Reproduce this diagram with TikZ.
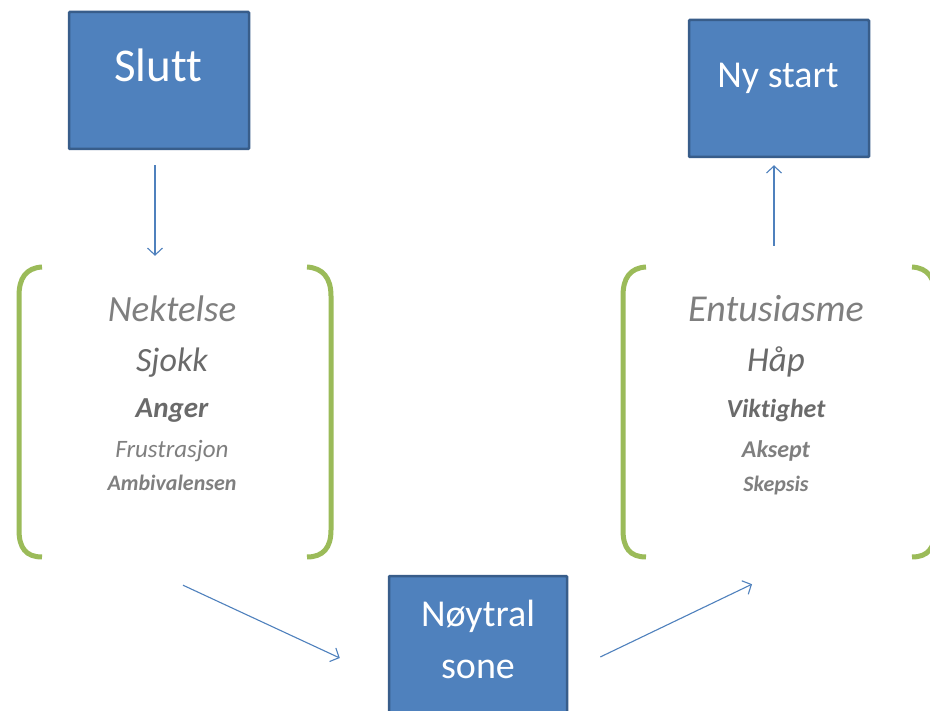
\documentclass[tikz,border=0pt]{standalone}
\usepackage{fontspec}
\setmainfont[Ligatures={NoCommon}]{Carlito}
\usetikzlibrary{arrows.meta,calc}
\definecolor{boxblue}{HTML}{4F81BD}
\definecolor{boxedge}{HTML}{385D8A}
\definecolor{brgreen}{HTML}{9BBB59}
\definecolor{lighttext}{HTML}{7F7F7F}
\definecolor{midtext}{HTML}{6A6A6A}
\begin{document}
\begin{tikzpicture}[x=1pt,y=-1pt,
  box/.style={draw=boxedge, line width=2.5pt, fill=boxblue, rounded corners=1pt, inner sep=0pt},
  boxtext/.style={text=white, anchor=base, inner sep=0pt},
  word/.style={anchor=base, inner sep=0pt},
  grp/.style={inner sep=0pt, minimum width=#1, minimum height=291pt},
  arr/.style={draw=boxblue, line width=1.1pt, -{Straight Barb[length=7pt,width=15pt,line width=1.1pt]}},
  brk/.style={draw=brgreen, line width=5pt}]
\useasboundingbox (0,0) rectangle (930,711);
\fill[white] (0,0) rectangle (930,711);
\clip (0,0) rectangle (930,711);

% boxes
\node[box, minimum width=180pt, minimum height=137pt] (slutt) at (159,80.5) {};
\node[boxtext, font=\fontsize{47}{56}\selectfont] (sluttlbl) at (158,82) {Slutt};
\node[box, minimum width=180pt, minimum height=137pt] (nystart) at (779,88.5) {};
\node[boxtext, font=\fontsize{38}{46}\selectfont] (nystartlbl) at (778,88) {Ny start};
\node[box, minimum width=178pt, minimum height=164pt] (noytral) at (478,658) {};
\node[boxtext, font=\fontsize{38}{46}\selectfont] (noytrallbl1) at (478,626) {Nøytral};
\node[boxtext, font=\fontsize{38}{46}\selectfont] (noytrallbl2) at (478,678) {sone};

% groups
\node[grp=316pt] (grpL) at (175,410.5) {};
\node[grp=308pt] (grpR) at (776,410.5) {};

% brackets
\draw[brk] (42,267) .. controls (26,268) and (19,278) .. (19,296) -- (19,530) .. controls (19,548) and (26,557) .. (42,557);
\draw[brk] (307,267) .. controls (323,268) and (331,278) .. (331,296) -- (331,530) .. controls (331,548) and (323,557) .. (307,557);
\draw[brk] (646,267) .. controls (630,268) and (623,278) .. (623,296) -- (623,530) .. controls (623,548) and (630,557) .. (646,557);
\draw[brk] (912,267) .. controls (928,268) and (935,278) .. (935,296) -- (935,530) .. controls (935,548) and (928,557) .. (912,557);

% left words
\node[word, text=lighttext, font=\fontsize{37}{44}\selectfont\itshape] (w1) at (172,322) {Nektelse};
\node[word, text=midtext, font=\fontsize{34}{40}\selectfont\itshape] (w2) at (172,372) {Sjokk};
\node[word, text=midtext, font=\fontsize{29}{35}\selectfont\bfseries\itshape] (w3) at (172,418) {Anger};
\node[word, text=lighttext, font=\fontsize{25}{30}\selectfont\itshape] (w4) at (172,457) {Frustrasjon};
\node[word, text=lighttext, font=\fontsize{22}{26}\selectfont\bfseries\itshape] (w5) at (172,490) {Ambivalensen};

% right words
\node[word, text=lighttext, font=\fontsize{38}{45}\selectfont\itshape] (r1) at (776,322) {Entusiasme};
\node[word, text=midtext, font=\fontsize{35}{42}\selectfont\itshape] (r2) at (776,372) {Håp};
\node[word, text=midtext, font=\fontsize{26}{31}\selectfont\bfseries\itshape] (r3) at (776,418) {Viktighet};
\node[word, text=lighttext, font=\fontsize{24}{29}\selectfont\bfseries\itshape] (r4) at (776,457) {Aksept};
\node[word, text=lighttext, font=\fontsize{22}{26}\selectfont\bfseries\itshape] (r5) at (776,492) {Skepsis};

% arrows
\draw[arr] ($(slutt.south)+(-4,15)$) -- ($(grpL.north)+(-20,-9)$);
\draw[arr] ($(grpR.north)+(-2,-19)$) -- ($(nystart.south)+(-5,7)$);
\draw[arr] ($(grpL.south)+(8,29)$) -- ($(noytral.west)+(-48,0)$);
\draw[arr] ($(noytral.east)+(32,-1)$) -- ($(grpR.south)+(-24,28)$);
\end{tikzpicture}
\end{document}
